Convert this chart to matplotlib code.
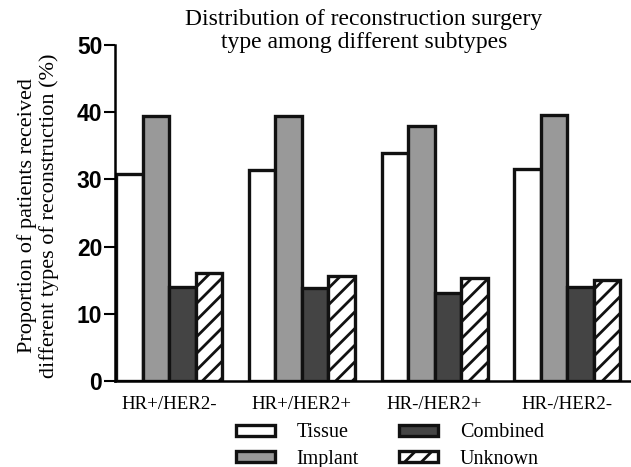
import numpy as np
import matplotlib
matplotlib.use("Agg")
from matplotlib import pyplot as plt

# %%
# Datos
subtypes = ["HR+/HER2-", "HR+/HER2+", "HR-/HER2+", "HR-/HER2-"]
recon_types = ["Tissue", "Implant", "Combined", "Unknown"]
tissue = [30.8, 31.4, 33.9, 31.5]
implant = [39.4, 39.4, 37.9, 39.6]
combined = [14.0, 13.8, 13.1, 14.0]
unknown = [16.0, 15.6, 15.4, 15.1]

# %%
plt.rcParams["hatch.linewidth"] = 2.0
serif = "Liberation Serif"

fig = plt.figure(figsize=(6.31, 4.67), dpi=100)
ax = fig.add_axes([0.182, 0.184, 0.818, 0.72])

x_ = np.arange(len(subtypes))
w = 0.2
series = [tissue, implant, combined, unknown]
faces = ["white", "#999999", "#444444", "white"]
hatches = [None, None, None, "//"]

for i, (vals, fc, h, lab) in enumerate(zip(series, faces, hatches, recon_types)):
    ax.bar(x_ - 0.3 + i * w, vals, width=w, color=fc, edgecolor="#111111",
           linewidth=2.4, hatch=h, label=lab)

ax.set_ylim(0, 50)
ax.set_xlim(-0.41, 3.48)
ax.set_yticks([0, 10, 20, 30, 40, 50])
ax.set_yticklabels(["0", "10", "20", "30", "40", "50"],
                   fontsize=16.5, fontweight="bold", family="Liberation Sans")
ax.set_xticks(x_)
ax.set_xticklabels(subtypes, fontsize=13.6, family=serif)
ax.tick_params(axis="x", length=0, pad=11)
ax.tick_params(axis="y", length=8, width=1.5, pad=1)

for s in ["top", "right"]:
    ax.spines[s].set_visible(False)
ax.spines["left"].set_linewidth(1.8)
ax.spines["bottom"].set_linewidth(1.8)

fig.text(364 / 631, 1 - 31 / 467, "Distribution of reconstruction surgery\ntype among different subtypes",
         ha="center", va="center", fontsize=17, family=serif, linespacing=1.15)

fig.text(38 / 631, 1 - 216 / 467, "Proportion of patients received\ndifferent types of reconstruction (%)",
         ha="center", va="center", rotation=90, fontsize=16, family=serif,
         multialignment="center", linespacing=1.2)

handles, labels = ax.get_legend_handles_labels()
# orden: columna 1 Tissue/Implant, columna 2 Combined/Unknown
fig.legend(handles, labels, ncol=2, loc="center", bbox_to_anchor=(390 / 631, 1 - 446 / 467),
           frameon=False, prop={"family": serif, "size": 14.5},
           handlelength=1.9, handleheight=0.5, handletextpad=1.1,
           columnspacing=2.0, labelspacing=0.35)

fig.savefig("out.png", dpi=100)
